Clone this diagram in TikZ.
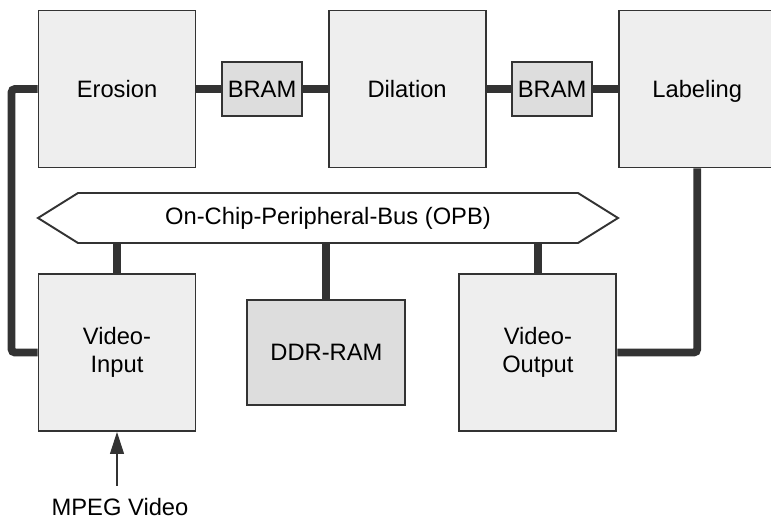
\documentclass[tikz,border=0pt]{standalone}
\usepackage{fontspec}
\setmainfont{Liberation Sans}
\usetikzlibrary{positioning,arrows.meta,shapes.symbols}
\definecolor{BoxGrey}{RGB}{238,238,238}
\definecolor{MemGrey}{RGB}{221,221,221}
\definecolor{LineGrey}{RGB}{51,51,51}

\begin{document}
\begin{tikzpicture}[node distance=0.49cm, every node/.style={font=\fontsize{13.5}{16}\selectfont, align=center},
  block/.style={draw=LineGrey, line width=1.1pt, fill=BoxGrey, minimum size=3.14cm},
  mem/.style={draw=LineGrey, line width=1.1pt, fill=MemGrey},
  bus/.style={draw=LineGrey, line width=1.1pt, fill=white, shape=signal, signal to=west and east,
    signal pointer angle=64, minimum width=11.6cm, minimum height=1cm},
  link/.style={LineGrey, line width=4.5pt, rounded corners=2pt}]
  \useasboundingbox (0,0) rectangle (15.42,-10.44);
  % processing chain
  \node[block] (ero) at (2.34,-1.78) {Erosion};
  \node[mem, minimum width=1.58cm, minimum height=1.08cm, right=of ero] (bram1) {BRAM};
  \node[block, right=of bram1] (dil) {Dilation};
  \node[mem, minimum width=1.58cm, minimum height=1.08cm, right=of dil] (bram2) {BRAM};
  \node[block, right=of bram2, text depth=0pt] (lab) {Labeling};
  % bus and peripherals
  \node[bus] (opb) at (6.56,-4.36) {On-Chip-Peripheral-Bus (OPB)};
  \node[block] (vin) at (2.34,-7.05) {Video-\\Input};
  \node[mem, minimum width=3.16cm, minimum height=2.1cm, right=1.0cm of vin] (ddr) {DDR-RAM};
  \node[block, right=1.04cm of ddr] (vout) {Video-\\Output};
  \node[anchor=base] (mpeg) at (2.40,-10.30) {MPEG Video};
  \draw[link] (ero) -- (bram1) -- (dil) -- (bram2) -- (lab);
  \draw[link] (ero.west) -- ++(-0.52,0) |- (vin.west);
  \draw[link] (lab.south) |- (vout.east);
  \draw[link] (vin.north) -- (vin.north |- opb.south);
  \draw[link] (ddr.north) -- (ddr.north |- opb.south);
  \draw[link] (vout.north) -- (vout.north |- opb.south);
  \draw[-{Triangle[length=0.44cm,width=0.28cm]}, LineGrey, line width=0.6pt, shorten <=0.12cm] (mpeg.north -| vin.south) -- (vin.south);
\end{tikzpicture}
\end{document}
